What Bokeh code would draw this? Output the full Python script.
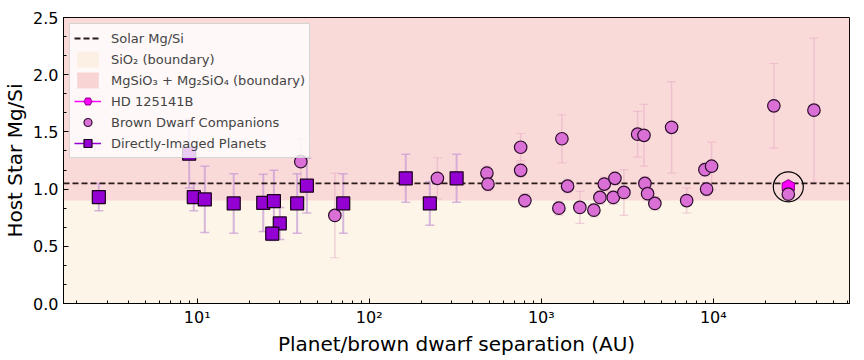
import math
from bokeh.plotting import figure
from bokeh.models import (Range1d, BoxAnnotation, Span, Whisker, TeeHead, ColumnDataSource,
                          Legend, LegendItem, FixedTicker, SingleIntervalTicker,
                          NumeralTickFormatter, CustomJSTickFormatter)
from bokeh.embed import file_html
from bokeh.resources import INLINE

# ---------------- data ----------------
solar_mgsi = 1.05
boundary_mgsi = 0.9

pl_sep = [2.68, 8.98, 9.55, 11.07, 16.3, 24.2, 27.9, 30.2, 27.3, 38.1, 43.4, 70.6, 163, 225, 322]
pl_mgsi = [0.93, 1.31, 0.93, 0.91, 0.875, 0.88, 0.895, 0.70, 0.61, 0.875, 1.03, 0.875, 1.094, 0.875, 1.094]
pl_err = [0.12, 0.30, 0.12, 0.29, 0.26, 0.25, 0.27, 0.14, 0.06, 0.26, 0.24, 0.26, 0.21, 0.19, 0.21]

bd_sep = [40.0, 63.1, 249, 483, 490, 759, 759, 803, 1265, 1318, 1422, 1676, 2022, 2192, 2323,
          2622, 2680, 3022, 3631, 3953, 4003, 4150, 4573, 5723, 7000, 8937, 9141, 9772,
          22490, 38460, 27290]
bd_mgsi = [1.24, 0.77, 1.094, 1.14, 1.044, 1.366, 1.164, 0.90, 0.833, 1.44, 1.026, 0.84, 0.816,
           0.927, 1.044, 0.927, 1.094, 0.971, 1.48, 1.47, 1.05, 0.96, 0.875, 1.54, 0.90, 1.17,
           1.0, 1.20, 1.728, 1.69, 0.956]
bd_err = [0.20, 0.37, 0.18, 0.06, 0.06, 0.12, 0.06, 0.06, 0.06, 0.21, 0.06, 0.14, 0.06,
          0.06, 0.06, 0.06, 0.06, 0.20, 0.20, 0.27, 0.06, 0.06, 0.06, 0.40, 0.11, 0.06,
          0.06, 0.21, 0.37, 0.63, 0.06]

hd_sep = [27290]
hd_mgsi = [1.02]

x_ticks = [10, 100, 1000, 10000]
y_label = "Host Star Mg/Si"
x_label = "Planet/brown dwarf separation (AU)"

FONT = "DejaVu Sans"
NAN = [float("nan")]

# ---------------- figure ----------------
p = figure(x_axis_type="log", x_range=Range1d(1.67, 61900), y_range=Range1d(0, 2.5),
           frame_width=786, frame_height=286, output_backend="svg", toolbar_location=None,
           min_border_left=62, min_border_right=3, min_border_top=17, min_border_bottom=10)
p.grid.visible = False
p.outline_line_color = "black"
p.outline_line_width = 1
p.background_fill_color = "white"

# regions
p.add_layout(BoxAnnotation(bottom=0, top=boundary_mgsi, fill_color="wheat", fill_alpha=0.3,
                           line_alpha=0, level="underlay"))
p.add_layout(BoxAnnotation(bottom=boundary_mgsi, top=2.5, fill_color="lightcoral", fill_alpha=0.3,
                           line_alpha=0, level="underlay"))

# error bars
pl_src = ColumnDataSource(dict(x=pl_sep, y=pl_mgsi,
                               lo=[v - e for v, e in zip(pl_mgsi, pl_err)],
                               hi=[v + e for v, e in zip(pl_mgsi, pl_err)]))
bd_src = ColumnDataSource(dict(x=bd_sep, y=bd_mgsi,
                               lo=[v - e for v, e in zip(bd_mgsi, bd_err)],
                               hi=[v + e for v, e in zip(bd_mgsi, bd_err)]))

bd_ec = "#e3a3c0"
p.add_layout(Whisker(source=bd_src, base="x", upper="hi", lower="lo", level="underlay",
                     line_color=bd_ec, line_alpha=0.45, line_width=1.5,
                     upper_head=TeeHead(size=9, line_color=bd_ec, line_alpha=0.45, line_width=1.2),
                     lower_head=TeeHead(size=9, line_color=bd_ec, line_alpha=0.45, line_width=1.2)))
pl_ec = "#c79ad6"
p.add_layout(Whisker(source=pl_src, base="x", upper="hi", lower="lo", level="underlay",
                     line_color=pl_ec, line_alpha=0.7, line_width=2,
                     upper_head=TeeHead(size=9, line_color=pl_ec, line_alpha=0.7, line_width=1.5),
                     lower_head=TeeHead(size=9, line_color=pl_ec, line_alpha=0.7, line_width=1.5)))

p.add_layout(Span(location=solar_mgsi, dimension="width", line_color="#2a1a1a",
                  line_dash="6 3", line_width=1.8, level="underlay"))

# legend-only renderers (placeholder NaN data, nothing drawn in the plot)
solar_r = p.line(x=NAN, y=NAN, line_color="#2a1a1a", line_dash="6 3", line_width=1.8)
sio2_r = p.quad(left=NAN, right=NAN, bottom=NAN, top=NAN, fill_color="wheat", fill_alpha=0.3, line_alpha=0)
mg_r = p.quad(left=NAN, right=NAN, bottom=NAN, top=NAN, fill_color="lightcoral", fill_alpha=0.3, line_alpha=0)
hd_line = p.line(x=NAN, y=NAN, line_color="magenta", line_width=1.5)
pl_line = p.line(x=NAN, y=NAN, line_color="darkviolet", line_width=1.5)

# data markers
hd_r = p.scatter(x=hd_sep, y=hd_mgsi, marker="hex", angle=math.pi / 2, size=14,
                 fill_color="magenta", line_color="#a000a0", line_width=1.2)
bd_r = p.scatter(x="x", y="y", source=bd_src, marker="circle", size=12.5,
                 fill_color="orchid", line_color="#2d0f2d", line_width=1.2)
pl_r = p.scatter(x="x", y="y", source=pl_src, marker="square", size=13,
                 fill_color="darkviolet", line_color="#1a001a", line_width=1.2)
p.scatter(x=hd_sep, y=hd_mgsi, marker="circle", size=30, fill_alpha=0,
          line_color="black", line_width=1.2)

legend = Legend(items=[
    LegendItem(label="Solar Mg/Si", renderers=[solar_r]),
    LegendItem(label="SiO\u2082 (boundary)", renderers=[sio2_r]),
    LegendItem(label="MgSiO\u2083 + Mg\u2082SiO\u2084 (boundary)", renderers=[mg_r]),
    LegendItem(label="HD 125141B", renderers=[hd_line, hd_r]),
    LegendItem(label="Brown Dwarf Companions", renderers=[bd_r]),
    LegendItem(label="Directly-Imaged Planets", renderers=[pl_line, pl_r]),
], location="top_left")
legend.label_text_font = FONT
legend.label_text_font_size = "13px"
legend.glyph_height = 20
legend.glyph_width = 27
legend.label_height = 20
legend.spacing = 1
legend.padding = 4
legend.margin = 6
legend.label_standoff = 10
legend.background_fill_color = "white"
legend.background_fill_alpha = 0.8
legend.border_line_color = "#cccccc"
legend.border_line_alpha = 0.8
p.add_layout(legend)

# axes
xa = p.xaxis[0]
xa.ticker = FixedTicker(ticks=x_ticks,
                        minor_ticks=[d * m for d in [1, 10, 100, 1000, 10000] for m in range(2, 10)])
xa.formatter = CustomJSTickFormatter(code="""
const s = {'0':'\u2070','1':'\u00b9','2':'\u00b2','3':'\u00b3','4':'\u2074','5':'\u2075',
           '6':'\u2076','7':'\u2077','8':'\u2078','9':'\u2079','-':'\u207b'};
const e = Math.round(Math.log10(tick));
return '10' + String(e).split('').map(c => s[c]).join('');
""")
xa.axis_label = x_label

ya = p.yaxis[0]
ya.ticker = SingleIntervalTicker(interval=0.5, num_minor_ticks=3)
ya.formatter = NumeralTickFormatter(format="0.0")
ya.axis_label = y_label

for ax in (xa, ya):
    ax.major_tick_in = 5
    ax.major_tick_out = 0
    ax.minor_tick_in = 3
    ax.minor_tick_out = 0
    ax.major_tick_line_color = "black"
    ax.minor_tick_line_color = "black"
    ax.axis_line_color = "black"
    ax.major_label_text_font = FONT
    ax.major_label_text_font_size = "16px"
    ax.major_label_text_color = "black"
    ax.axis_label_text_font = FONT
    ax.axis_label_text_font_size = "20px"
    ax.axis_label_text_font_style = "normal"
    ax.axis_label_text_color = "black"

xa.major_label_standoff = 4
xa.axis_label_standoff = 2
ya.major_label_standoff = 5
ya.axis_label_standoff = 3

with open("out.html", "w") as f:
    f.write(file_html(p, INLINE))
